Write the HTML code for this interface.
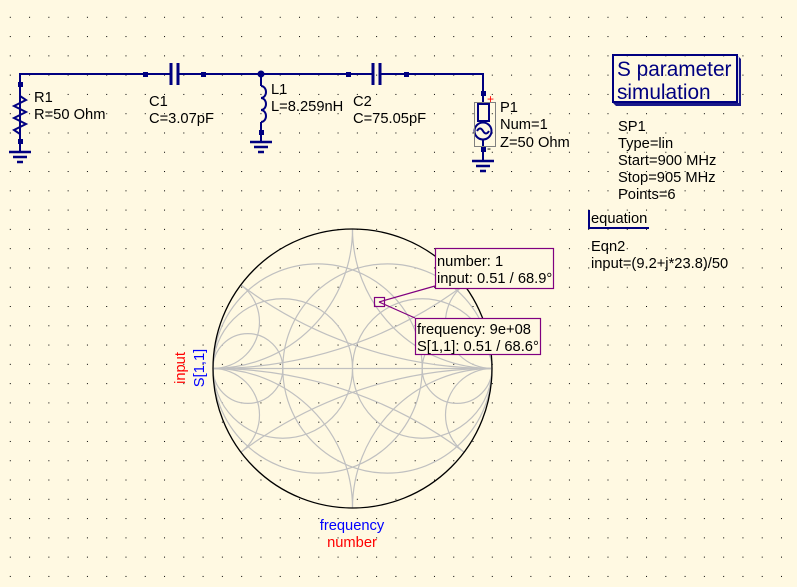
<!DOCTYPE html>
<html><head><meta charset="utf-8"><style>
html,body{margin:0;padding:0;background:#fff9e2;overflow:hidden;width:797px;height:587px;}
svg{display:block;font-family:"Liberation Sans",Arial,sans-serif;}
</style></head><body>
<svg width="797" height="587" viewBox="0 0 797 587" xmlns="http://www.w3.org/2000/svg">
<defs>
<pattern id="g" x="9.8" y="16.8" width="19.28" height="19.28" patternUnits="userSpaceOnUse">
<rect x="0" y="0" width="1" height="1" fill="#000"/>
</pattern>
<clipPath id="cc"><circle cx="352.5" cy="368.5" r="139.5"/></clipPath>
</defs>
<rect width="797" height="587" fill="#fff9e2"/>
<rect width="797" height="587" fill="url(#g)"/>

<g clip-path="url(#cc)" fill="none" stroke="#c0c0c0" stroke-width="1.2">
<line x1="213" y1="368.5" x2="492" y2="368.5"/>
<circle cx="387.4" cy="368.5" r="104.6"/>
<circle cx="422.25" cy="368.5" r="69.75"/>
<circle cx="457.1" cy="368.5" r="34.9"/>
<circle cx="317.6" cy="368.5" r="104.6"/>
<circle cx="282.75" cy="368.5" r="69.75"/>
<circle cx="247.9" cy="368.5" r="34.9"/>
<circle cx="492" cy="-50" r="418.5"/>
<circle cx="492" cy="787" r="418.5"/>
<circle cx="492" cy="229" r="139.5"/>
<circle cx="492" cy="508" r="139.5"/>
<circle cx="492" cy="322" r="46.5"/>
<circle cx="492" cy="415" r="46.5"/>
<circle cx="213" cy="-50" r="418.5"/>
<circle cx="213" cy="787" r="418.5"/>
<circle cx="213" cy="229" r="139.5"/>
<circle cx="213" cy="508" r="139.5"/>
<circle cx="213" cy="322" r="46.5"/>
<circle cx="213" cy="415" r="46.5"/>
</g>
<circle cx="352.5" cy="368.5" r="139.5" fill="none" stroke="#000" stroke-width="1.3"/>

<g stroke="#800080" stroke-width="1.2" fill="none">
<rect x="374.5" y="297.5" width="10" height="9"/>
<line x1="379" y1="302" x2="435" y2="286"/>
<line x1="379" y1="302" x2="415" y2="318"/>
<rect x="435.5" y="248.5" width="118" height="40" fill="#fff9e2"/>
<rect x="415.5" y="318.5" width="125" height="36" fill="#fff9e2"/>
</g>
<g font-size="14.7" fill="#000">
<text x="437" y="266">number: 1</text>
<text x="437" y="283">input: 0.51 / 68.9°</text>
<text x="417" y="334">frequency: 9e+08</text>
<text x="417" y="351">S[1,1]: 0.51 / 68.6°</text>
</g>
<text transform="translate(185,368) rotate(-90)" text-anchor="middle" font-size="14.7" fill="#ff0000">input</text>
<text transform="translate(204,368) rotate(-90)" text-anchor="middle" font-size="14.7" fill="#0000ff">S[1,1]</text>
<text x="352" y="530" text-anchor="middle" font-size="14.7" fill="#0000ff">frequency</text>
<text x="352" y="547" text-anchor="middle" font-size="14.7" fill="#ff0000">number</text>

<g stroke="#000080" stroke-width="2" fill="none">
<polyline points="20,141 20,74 170,74"/>
<line x1="178" y1="74" x2="372" y2="74"/>
<polyline points="380,74 483,74 483,104"/>
<polyline points="20,84 20,96 26,100 14,106 26,112 14,118 26,124 14,130 20,134 20,141"/>
<line x1="20" y1="141" x2="20" y2="152"/>
<line x1="171" y1="63" x2="171" y2="85" stroke-width="3"/>
<line x1="178" y1="63" x2="178" y2="85" stroke-width="3"/>
<line x1="373" y1="63" x2="373" y2="85" stroke-width="3"/>
<line x1="380" y1="63" x2="380" y2="85" stroke-width="3"/>
<line x1="261" y1="74" x2="261" y2="86"/>
<path d="M261,86 a5,6 0 0 1 0,12 a5,6 0 0 1 0,12 a5,6 0 0 1 0,12"/>
<line x1="261" y1="122" x2="261" y2="142"/>
<rect x="478" y="104" width="11" height="17"/>
<line x1="483" y1="121" x2="483" y2="123"/>
<circle cx="483" cy="131" r="8.5"/>
<path d="M477,131 q3,-5 6,0 t6,0"/>
<line x1="483" y1="139.5" x2="483" y2="161"/>
</g>
<g stroke="#000080" stroke-width="2.5">
<line x1="9" y1="152" x2="31" y2="152"/><line x1="13" y1="157" x2="27" y2="157"/><line x1="17" y1="162" x2="23" y2="162"/>
<line x1="250" y1="142" x2="272" y2="142"/><line x1="254" y1="147" x2="268" y2="147"/><line x1="258" y1="152" x2="264" y2="152"/>
<line x1="472" y1="161" x2="494" y2="161"/><line x1="476" y1="166" x2="490" y2="166"/><line x1="480" y1="171" x2="486" y2="171"/>
</g>
<rect x="474.5" y="102.5" width="21" height="44" fill="none" stroke="#808080" stroke-width="1"/>
<g fill="#000080">
<rect x="18" y="82" width="5" height="5"/><rect x="18" y="139" width="5" height="5"/>
<rect x="143" y="72" width="5" height="5"/><rect x="201" y="72" width="5" height="5"/>
<circle cx="261" cy="74" r="3.5"/>
<rect x="259" y="130" width="5" height="5"/>
<rect x="346" y="72" width="5" height="5"/><rect x="404" y="72" width="5" height="5"/>
<rect x="481" y="91" width="5" height="5"/><rect x="481" y="147" width="5" height="5"/>
</g>
<text x="487" y="103" font-size="12" fill="#ff0000">+</text>
<text x="487" y="152" font-size="12" fill="#000">-</text>

<g font-size="14.7" fill="#000">
<text x="34" y="102">R1</text><text x="34" y="119">R=50 Ohm</text>
<text x="149" y="106">C1</text><text x="149" y="123">C=3.07pF</text>
<text x="271" y="94">L1</text><text x="271" y="111">L=8.259nH</text>
<text x="353" y="106">C2</text><text x="353" y="123">C=75.05pF</text>
<text x="500" y="112">P1</text><text x="500" y="129">Num=1</text><text x="500" y="147">Z=50 Ohm</text>
</g>

<polygon points="737,55 741,59 741,106 616,106 612,102 737,102" fill="#000080" opacity="0.9"/>
<polygon points="614,103 739,103 739,57 737,55 737,102 613,102" fill="#d8d8e8"/>
<rect x="613" y="55" width="124" height="47" fill="none" stroke="#000080" stroke-width="2"/>
<g font-size="20.8" fill="#000080">
<text x="617" y="76">S parameter</text>
<text x="617" y="99">simulation</text>
</g>
<g font-size="14.7" fill="#000">
<text x="618" y="131">SP1</text>
<text x="618" y="148">Type=lin</text>
<text x="618" y="165">Start=900 MHz</text>
<text x="618" y="182">Stop=905 MHz</text>
<text x="618" y="199">Points=6</text>
<text x="591" y="223">equation</text>
<text x="591" y="251">Eqn2</text>
<text x="591" y="268">input=(9.2+j*23.8)/50</text>
</g>
<polyline points="589,210 589,228 649,228" fill="none" stroke="#000080" stroke-width="2"/>
</svg>
</body></html>
